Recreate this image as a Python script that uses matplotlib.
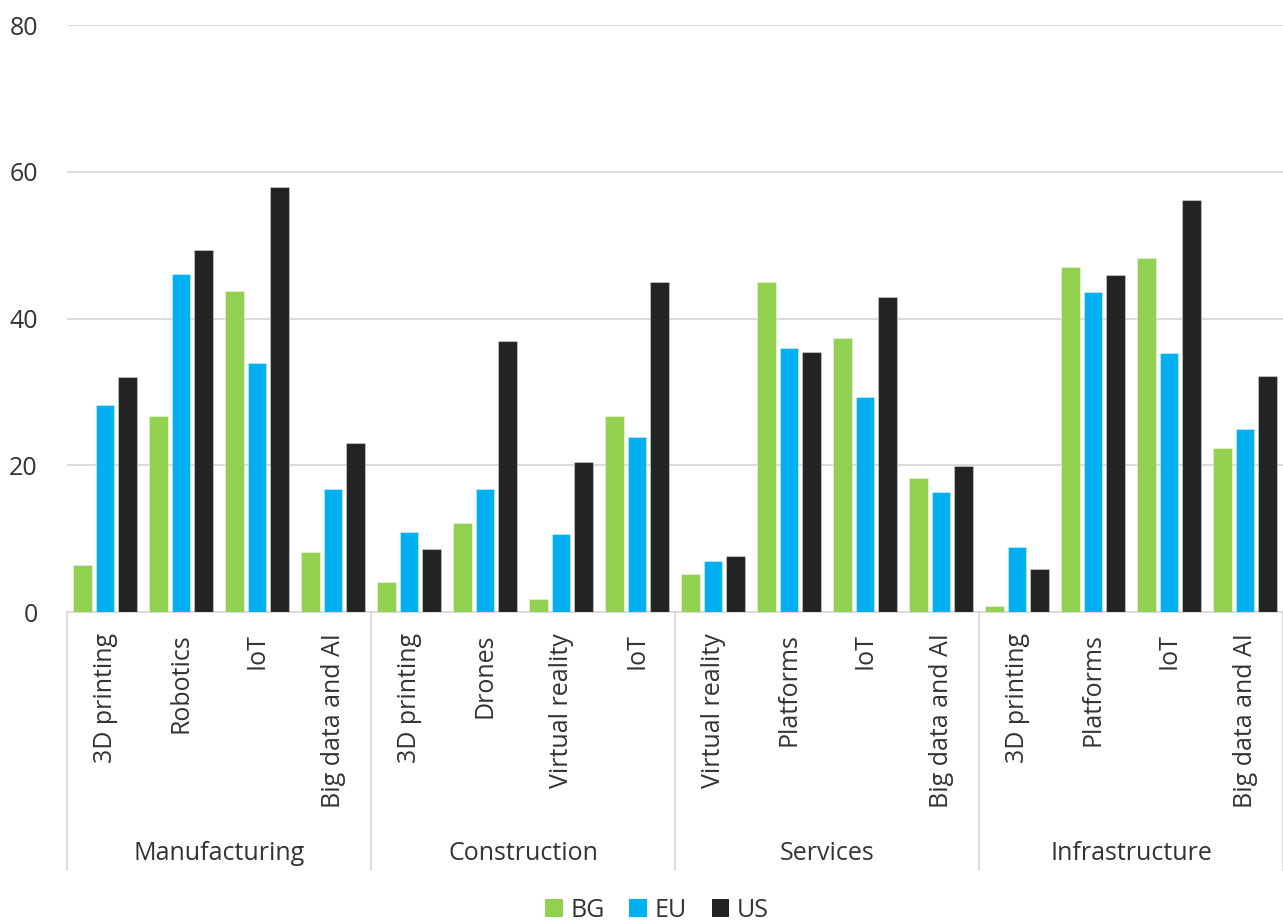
import matplotlib
matplotlib.use("Agg")
import matplotlib.pyplot as plt
import matplotlib.transforms as mtransforms
from matplotlib.patches import Patch
import numpy as np

plt.rcParams['font.family'] = ['Open Sans', 'DejaVu Sans']

sectors = ['Manufacturing', 'Construction', 'Services', 'Infrastructure']
techs = [
    ['3D printing', 'Robotics', 'IoT', 'Big data and AI'],
    ['3D printing', 'Drones', 'Virtual reality', 'IoT'],
    ['Virtual reality', 'Platforms', 'IoT', 'Big data and AI'],
    ['3D printing', 'Platforms', 'IoT', 'Big data and AI'],
]

bg = [6.4, 26.7, 43.8, 8.2,
      4.1, 12.1, 1.8, 26.7,
      5.2, 45.0, 37.3, 18.2,
      0.8, 47.0, 48.2, 22.3]
eu = [28.2, 46.0, 33.9, 16.7,
      10.9, 16.8, 10.6, 23.9,
      7.0, 36.0, 29.3, 16.4,
      8.9, 43.6, 35.3, 25.0]
us = [32.0, 49.4, 57.9, 23.0,
      8.6, 37.0, 20.4, 45.0,
      7.7, 35.4, 42.9, 19.9,
      5.9, 45.9, 56.2, 32.2]

series = ['BG', 'EU', 'US']
colors = ['#92D050', '#00B0F0', '#232323']
text_col = '#333333'
grid_col = '#D9D9D9'

fig = plt.figure(figsize=(12.83, 9.23), dpi=100)
ax = fig.add_axes([67 / 1283, 1 - 612 / 923, 1 - 67 / 1283, 587 / 923])

x = np.arange(16)
width = 0.237
step = 0.296
for i, (vals, col) in enumerate(zip([bg, eu, us], colors)):
    ax.bar(x + (i - 1) * step, vals, width, color=col,
           edgecolor=(1, 1, 1, 0.35), linewidth=0.8, zorder=3, label=series[i])

ax.set_xlim(-0.5, 15.5)
ax.set_ylim(0, 80)
ax.set_yticks([0, 20, 40, 60, 80])
ax.yaxis.grid(True, color=grid_col, linewidth=1.3, zorder=0)
ax.set_axisbelow(True)
for s in ['top', 'right', 'left']:
    ax.spines[s].set_visible(False)
ax.spines['bottom'].set_color(grid_col)
ax.spines['bottom'].set_linewidth(1.3)
ax.set_xticks([])
ax.tick_params(axis='y', length=0, pad=21, labelsize=18, labelcolor=text_col)

trans = mtransforms.blended_transform_factory(ax.transData, ax.transAxes)
labels = [t for grp in techs for t in grp]
for i, lab in enumerate(labels):
    ax.text(i, -0.036, lab, rotation=90, ha='center', va='top',
            fontsize=18, color=text_col, transform=trans)

for g, name in enumerate(sectors):
    ax.text(4 * g + 1.5, -0.4106, name, ha='center', va='center',
            fontsize=18, color=text_col, transform=trans)

for b in [-0.5, 3.5, 7.5, 11.5, 15.5]:
    ax.plot([b, b], [0, -0.4395], color=grid_col, linewidth=1.3,
            transform=trans, clip_on=False)

handles = [Patch(facecolor=c, edgecolor='none') for c in colors]
fig.legend(handles, series, loc='center', bbox_to_anchor=(0.512, 0.014),
           ncol=3, frameon=False, fontsize=18, labelcolor=text_col,
           handlelength=0.7, handleheight=0.7, handletextpad=0.3,
           columnspacing=1.0, borderaxespad=0)

fig.savefig('out.png', dpi=100)
